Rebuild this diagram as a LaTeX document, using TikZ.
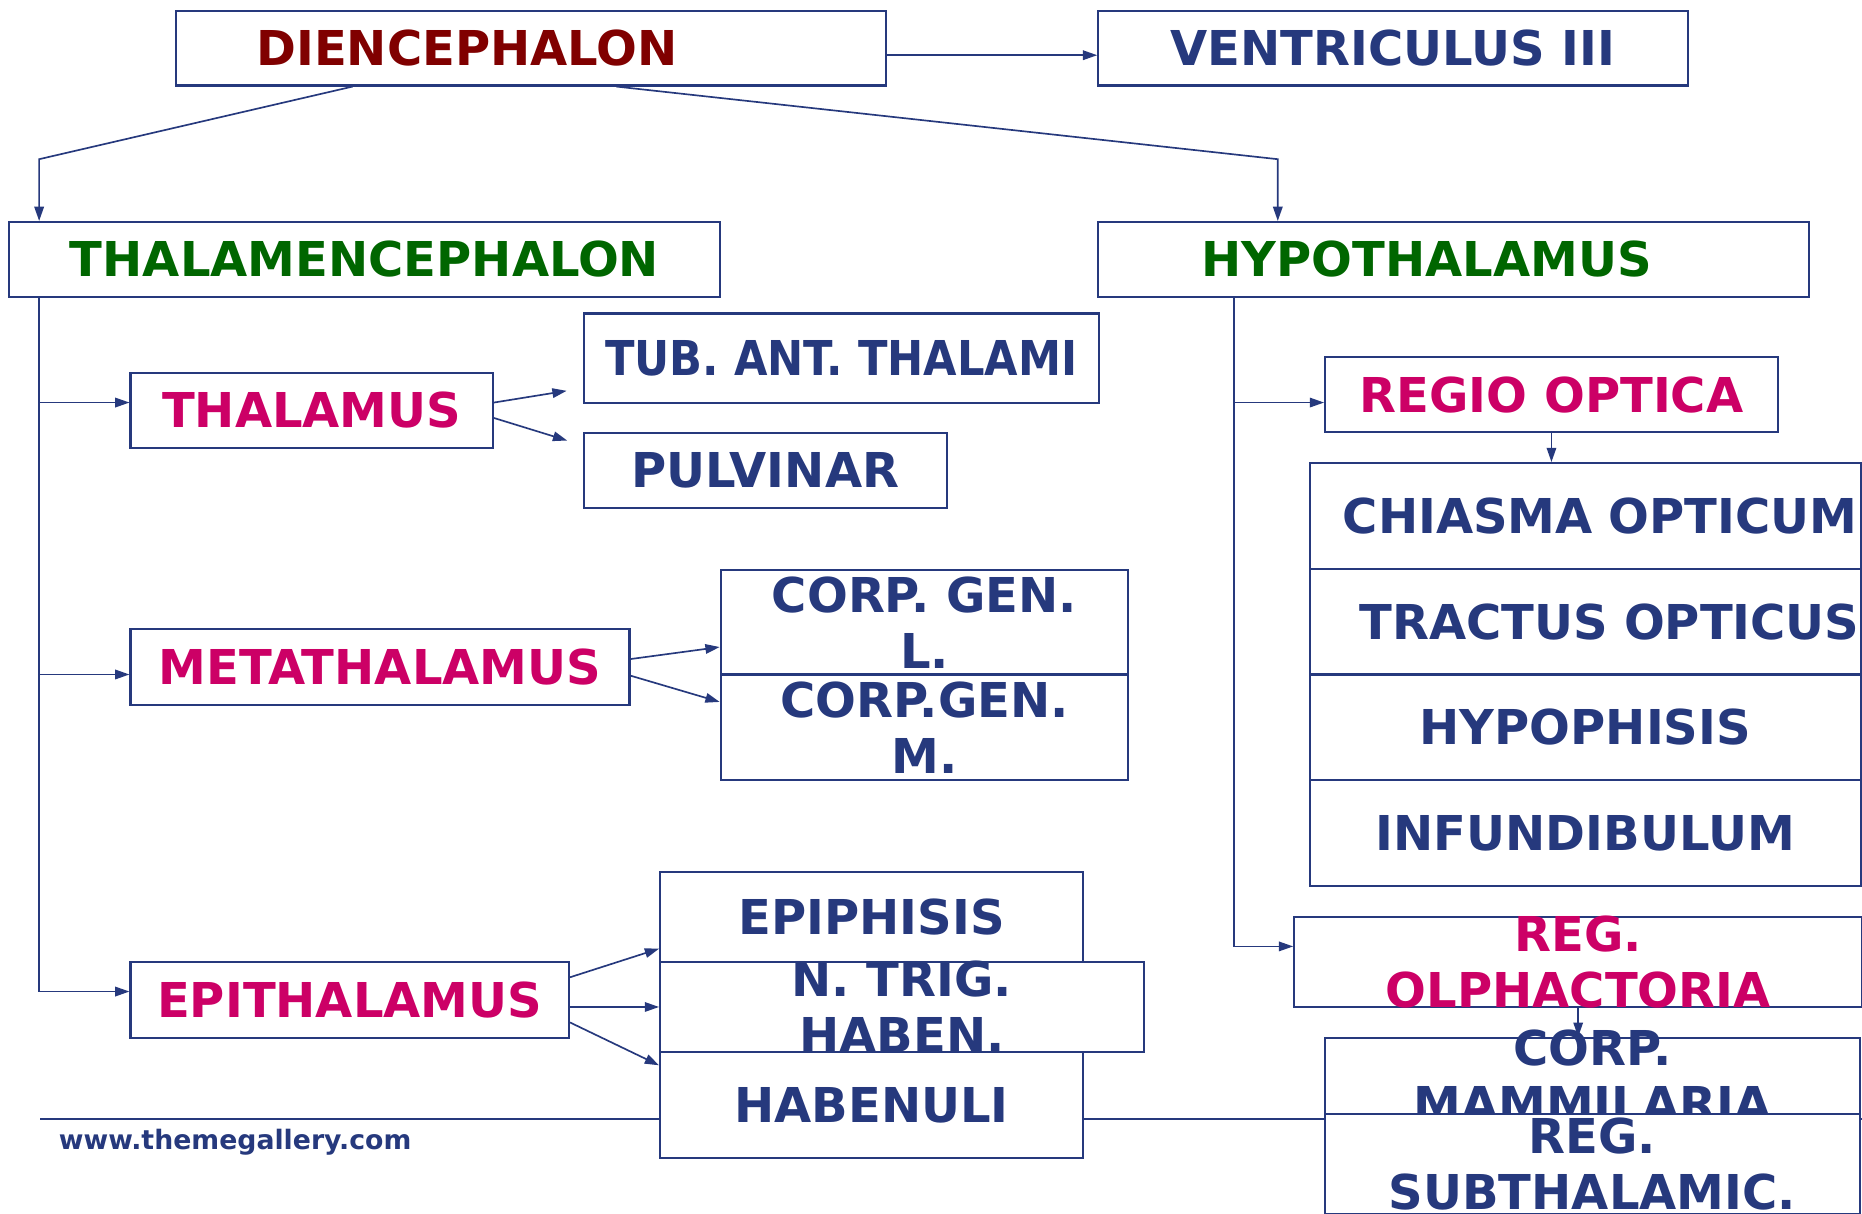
\documentclass[tikz,border=0pt]{standalone}
\usepackage{fontspec}
\setmainfont{DejaVu Sans}
\usepackage{tikz}
\usetikzlibrary{arrows.meta,positioning,calc}
\definecolor{dnavy}{RGB}{38,57,125}
\definecolor{dred}{RGB}{128,0,0}
\definecolor{dgreen}{RGB}{0,102,0}
\definecolor{dmag}{RGB}{204,0,102}
\newcommand{\diafont}{\fontsize{11.5}{13.4}\selectfont\bfseries}
\tikzset{
  organbox/.style={
    rectangle, draw=dnavy, fill=white, line width=0.5pt,
    inner sep=0pt, align=center, font=\diafont, text=dnavy
  },
  headbox/.style={organbox, text=dred},
  partbox/.style={organbox, text=dgreen},
  subbox/.style={organbox, text=dmag},
  leafbox/.style={organbox},
  tallbox/.style={inner ysep=-4pt},
  footnote/.style={font=\fontsize{6.4}{8}\selectfont\bfseries, text=dnavy},
  conn/.style={-{Triangle[length=1.2mm,width=0.8mm]}, draw=dnavy, line width=0.4pt}
}

\begin{document}
\begin{tikzpicture}[x=0.01cm, y=-0.01cm]
  \useasboundingbox (0,0) rectangle (1568,1022);
  \clip (0,0) rectangle (1568,1022);

  % Footer rule and site
  \draw[dnavy, line width=0.5pt] (34,942) -- (1568,942);
  \node[footnote] (site) at (198,962) {www.themegallery.com};

  % Top level
  \node[headbox, minimum width=5.98cm, minimum height=0.63cm,
        text width=4.62cm, inner xsep=0.68cm, align=left] (dien) at (447,40.5) {DIENCEPHALON};
  \node[leafbox, minimum width=4.96cm, minimum height=0.63cm] (vent) at (1173,40.5) {VENTRICULUS III};
  \node[partbox, minimum width=5.98cm, minimum height=0.63cm] (thalenc) at (307,218.5) {THALAMENCEPHALON};
  \node[partbox, minimum width=5.98cm, minimum height=0.63cm,
        text width=4.24cm, inner xsep=0.87cm, align=left] (hypo) at (1224,218.5) {HYPOTHALAMUS};

  % Thalamencephalon branch
  \node[subbox, minimum width=3.05cm, minimum height=0.63cm] (thal) at (262.5,345.5) {THALAMUS};
  \node[leafbox, minimum width=4.33cm, minimum height=0.75cm,
        font=\diafont\addfontfeature{FakeStretch=0.9}] (tub) at (708.5,301.5) {TUB. ANT. THALAMI};
  \node[leafbox, minimum width=3.05cm, minimum height=0.63cm] (pulv) at (644.5,396.5) {PULVINAR};
  \node[subbox, minimum width=4.20cm, minimum height=0.64cm] (meta) at (320,562) {METATHALAMUS};
  \node[leafbox, tallbox, minimum width=3.43cm, minimum height=0.88cm] (cgl) at (778.5,524) {CORP. GEN.\\L.};
  \node[leafbox, tallbox, minimum width=3.43cm, minimum height=0.89cm] (cgm) at (778.5,612.5) {CORP.GEN.\\M.};
  \node[subbox, minimum width=3.69cm, minimum height=0.64cm] (epith) at (294.5,842) {EPITHALAMUS};
  \node[leafbox, minimum width=3.56cm, minimum height=0.76cm] (epiph) at (734,772) {EPIPHISIS};
  \node[leafbox, tallbox, minimum width=4.07cm, minimum height=0.76cm] (ntrig) at (759.5,848) {N. TRIG.\\HABEN.};
  \node[leafbox, minimum width=3.56cm, minimum height=0.89cm] (haben) at (734,930.5) {HABENULI};

  % Hypothalamus branch
  \node[subbox, minimum width=3.81cm, minimum height=0.63cm] (regio) at (1306.5,332.5) {REGIO OPTICA};
  \node[leafbox, minimum width=4.64cm, minimum height=0.89cm,
        text width=4.08cm, inner xsep=0.28cm, align=left] (chiasma) at (1335,434.5) {\mbox{CHIASMA OPTICUM}};
  \node[leafbox, minimum width=4.64cm, minimum height=0.89cm,
        text width=3.80cm, inner xsep=0.42cm, align=left] (tractus) at (1335,523.5) {\mbox{TRACTUS OPTICUS}};
  \node[leafbox, minimum width=4.64cm, minimum height=0.89cm] (hypoph) at (1335,612.5) {HYPOPHISIS};
  \node[leafbox, minimum width=4.64cm, minimum height=0.89cm] (infund) at (1335,701.5) {INFUNDIBULUM};
  \node[subbox, tallbox, minimum width=4.78cm, minimum height=0.76cm] (olph) at (1329,810) {REG.\\OLPHACTORIA};
  \node[leafbox, tallbox, minimum width=4.50cm, minimum height=0.64cm] (mamm) at (1341,906) {CORP.\\MAMMILARIA};
  \node[leafbox, tallbox, minimum width=4.50cm, minimum height=0.84cm] (subthal) at (1341,980) {REG.\\SUBTHALAMIC.};

  % Links from the top box
  \draw[conn] ([yshift=-0.06cm]dien.east) -- ([yshift=-0.06cm]vent.west);
  \draw[conn] ($(dien.south west)!0.25!(dien.south east)$)
    -- ([xshift=0.26cm, yshift=0.52cm]thalenc.north west) -- ([xshift=0.26cm]thalenc.north west);
  \draw[conn] ($(dien.south west)!0.62!(dien.south east)$)
    -- ([xshift=1.52cm, yshift=0.52cm]hypo.north west) -- ([xshift=1.52cm]hypo.north west);

  % Left trunk
  \coordinate (ltrunk) at ([xshift=0.26cm]thalenc.south west);
  \draw[conn] (ltrunk) |- ([yshift=0.065cm]thal.west);
  \draw[conn] (ltrunk) |- ([yshift=-0.06cm]meta.west);
  \draw[conn] (ltrunk) |- ([yshift=0.07cm]epith.west);
  \draw[conn, shorten >=0.14cm] ([yshift=0.065cm]thal.east) -- ([yshift=0.13cm]tub.south west);
  \draw[conn, shorten >=0.14cm] ([yshift=-0.065cm]thal.east) -- ([yshift=-0.11cm]pulv.north west);
  \draw[conn] ([yshift=0.07cm]meta.east) -- ([yshift=0.24cm]cgl.south west);
  \draw[conn] ([yshift=-0.07cm]meta.east) -- ([yshift=-0.24cm]cgm.north west);
  \draw[conn] ([yshift=0.19cm]epith.east) -- ([yshift=0.12cm]epiph.south west);
  \draw[conn] ([yshift=-0.06cm]epith.east) -- (ntrig.west);
  \draw[conn] ([yshift=-0.19cm]epith.east) -- ([yshift=-0.12cm]haben.north west);

  % Right trunk
  \coordinate (rtrunk) at ([xshift=1.15cm]hypo.south west);
  \draw[conn] (rtrunk) |- ([yshift=-0.065cm]regio.west);
  \draw[conn] (rtrunk) |- ([yshift=0.13cm]olph.west);
  \draw[conn] (regio.south) -- (regio.south |- chiasma.north);
  \draw[conn] (olph.south) -- (olph.south |- mamm.north);
\end{tikzpicture}
\end{document}
